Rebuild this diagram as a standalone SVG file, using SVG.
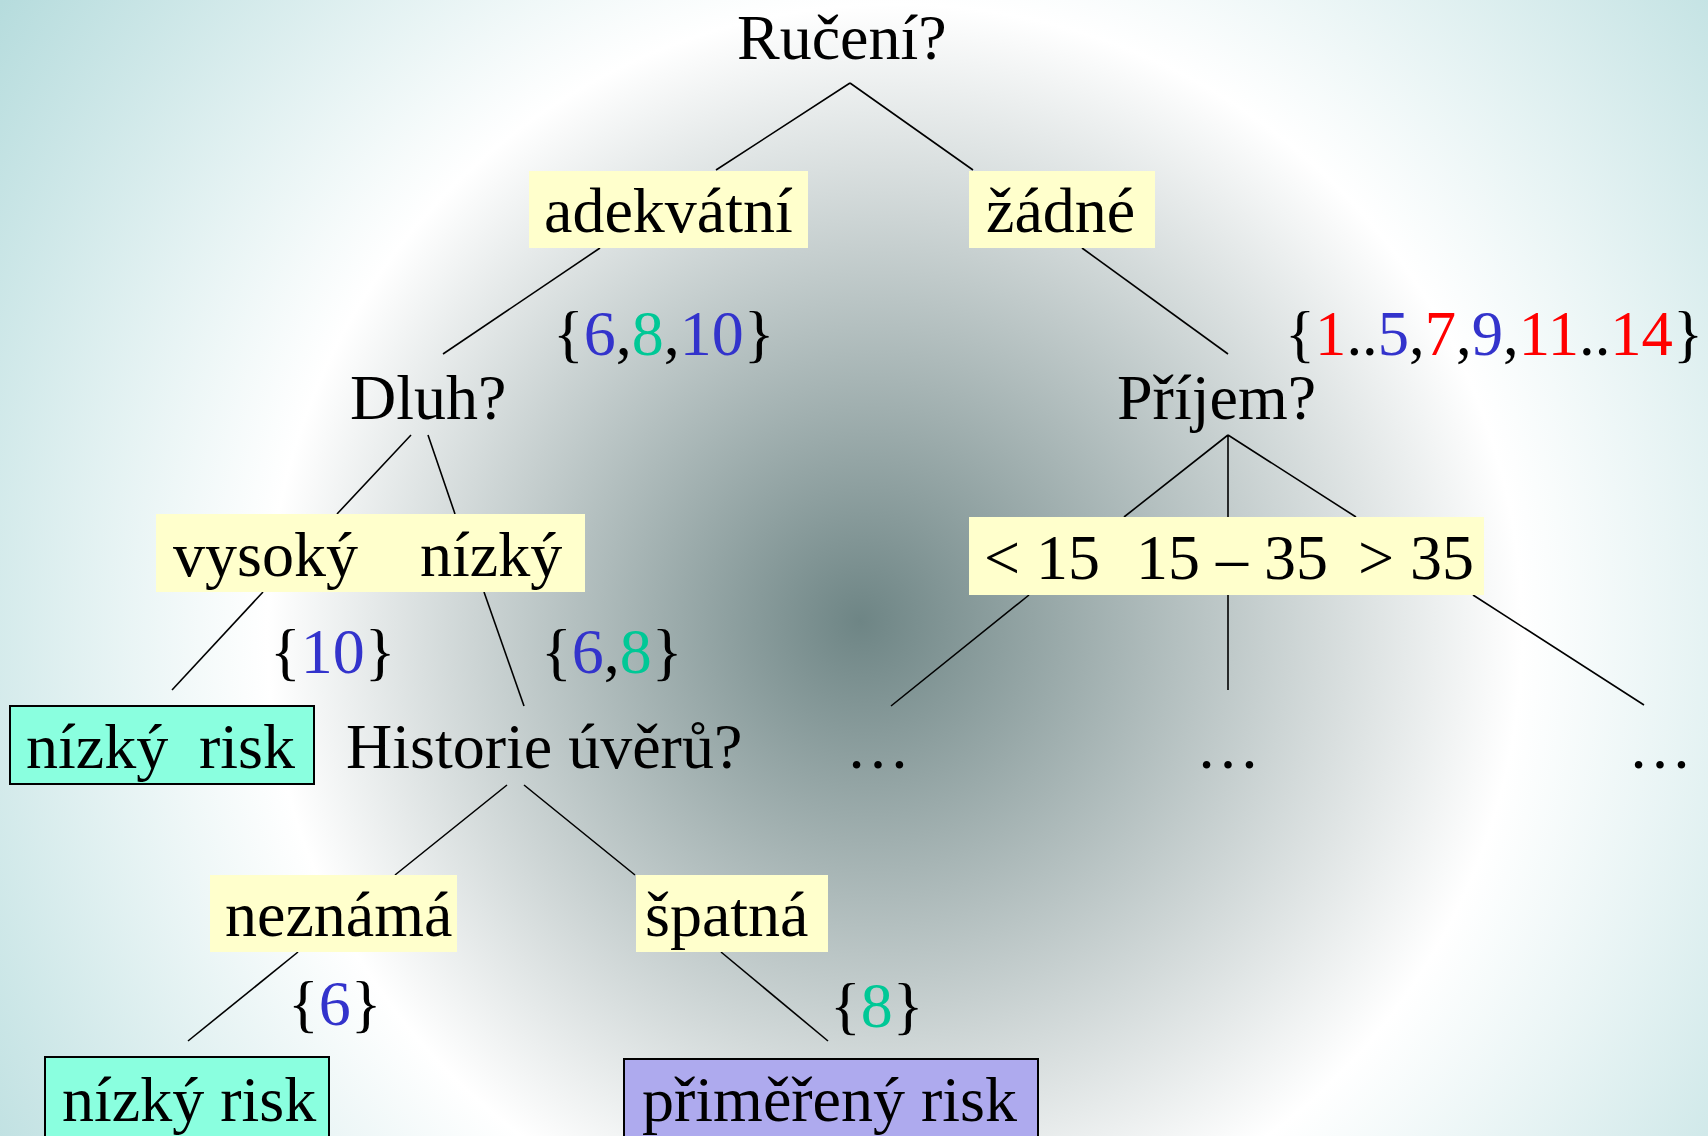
<svg xmlns="http://www.w3.org/2000/svg" width="1708" height="1136" viewBox="0 0 1708 1136">
  <defs>
    <radialGradient id="bg" gradientUnits="userSpaceOnUse" cx="922" cy="640" r="1120" fx="860" fy="621">
      <stop offset="0" stop-color="#6e8585"/>
      <stop offset="0.56" stop-color="#ffffff"/>
      <stop offset="1" stop-color="#b6dcdd"/>
    </radialGradient>
    <style>
      text { font-family: "Liberation Serif", "Times New Roman", serif; font-size: 64px; fill: #000; }
      .label { fill: #ffffcc; }
      .leaf-low { fill: #8affdf; stroke: #000; stroke-width: 2; }
      .leaf-mid { fill: #aeaaee; stroke: #000; stroke-width: 2; }
      .edge { stroke: #000; stroke-width: 1.6; fill: none; }
      .b { fill: #3333cc; }
      .g { fill: #00c896; }
      .r { fill: #ff0000; }
    </style>
  </defs>

  <rect x="0" y="0" width="1708" height="1136" fill="url(#bg)"/>

  <!-- tree edges -->
  <g id="connectors">
    <path class="edge" d="M850,83 L716,170 M850,83 L973,170"/>
    <path class="edge" d="M600,248 L443,354"/>
    <path class="edge" d="M1082,248 L1228,354"/>
    <path class="edge" d="M411,435 L337,514 M428,435 L455,514"/>
    <path class="edge" d="M263,592 L172,690"/>
    <path class="edge" d="M484,592 L524,706"/>
    <path class="edge" d="M1228,435 L1124,517 M1228,435 L1228,517 M1228,435 L1356,517"/>
    <path class="edge" d="M1029,595 L891,706 M1228,595 L1228,690 M1473,595 L1644,705"/>
    <path class="edge" d="M507,785 L395,875 M524,785 L635,875"/>
    <path class="edge" d="M298,952 L188,1041"/>
    <path class="edge" d="M721,952 L828,1041"/>
  </g>

  <g id="node-ruceni">
    <text x="737" y="59">Ručení?</text>
  </g>

  <g id="edge-adekvatni">
    <rect class="label" x="529" y="171" width="279" height="77"/>
    <text x="544" y="232">adekvátní</text>
  </g>

  <g id="edge-zadne">
    <rect class="label" x="969" y="171" width="186" height="77"/>
    <text x="986" y="232">žádné</text>
  </g>

  <g id="set-6-8-10">
    <text x="553" y="355">{<tspan class="b">6</tspan>,<tspan class="g">8</tspan>,<tspan class="b">10</tspan>}</text>
  </g>

  <g id="set-rest">
    <text x="1285" y="355" textLength="418" lengthAdjust="spacingAndGlyphs">{<tspan class="r">1</tspan>..<tspan class="b">5</tspan>,<tspan class="r">7</tspan>,<tspan class="b">9</tspan>,<tspan class="r">11</tspan>..<tspan class="r">14</tspan>}</text>
  </g>

  <g id="node-dluh">
    <text x="350" y="419">Dluh?</text>
  </g>

  <g id="node-prijem">
    <text x="1117" y="419">Příjem?</text>
  </g>

  <g id="edge-dluh">
    <rect class="label" x="156" y="514" width="429" height="78"/>
    <text x="173" y="576">vysoký</text>
    <text x="420" y="576">nízký</text>
  </g>

  <g id="edge-prijem">
    <rect class="label" x="969" y="517" width="515" height="78"/>
    <text x="984" y="579">&lt; 15</text>
    <text x="1136" y="579">15 – 35</text>
    <text x="1358" y="579">&gt; 35</text>
  </g>

  <g id="set-10">
    <text x="270" y="673">{<tspan class="b">10</tspan>}</text>
  </g>

  <g id="set-6-8">
    <text x="541" y="673">{<tspan class="b">6</tspan>,<tspan class="g">8</tspan>}</text>
  </g>

  <g id="leaf-nizky-1">
    <rect class="leaf-low" x="10" y="706" width="304" height="78"/>
    <text x="26" y="768">nízký</text>
    <text x="199" y="768">risk</text>
  </g>

  <g id="node-historie">
    <text x="346" y="768">Historie úvěrů?</text>
  </g>

  <g id="more-1"><text x="846" y="768">…</text></g>
  <g id="more-2"><text x="1196" y="768">…</text></g>
  <g id="more-3"><text x="1628" y="768">…</text></g>

  <g id="edge-neznama">
    <rect class="label" x="210" y="875" width="247" height="77"/>
    <text x="225" y="936">neznámá</text>
  </g>

  <g id="edge-spatna">
    <rect class="label" x="636" y="875" width="192" height="77"/>
    <text x="645" y="936">špatná</text>
  </g>

  <g id="set-6">
    <text x="288" y="1025">{<tspan class="b">6</tspan>}</text>
  </g>

  <g id="set-8">
    <text x="830" y="1027">{<tspan class="g">8</tspan>}</text>
  </g>

  <g id="leaf-nizky-2">
    <rect class="leaf-low" x="45" y="1057" width="284" height="90"/>
    <text x="62" y="1121">nízký risk</text>
  </g>

  <g id="leaf-primereny">
    <rect class="leaf-mid" x="624" y="1059" width="414" height="90"/>
    <text x="642" y="1121">přiměřený risk</text>
  </g>
</svg>
